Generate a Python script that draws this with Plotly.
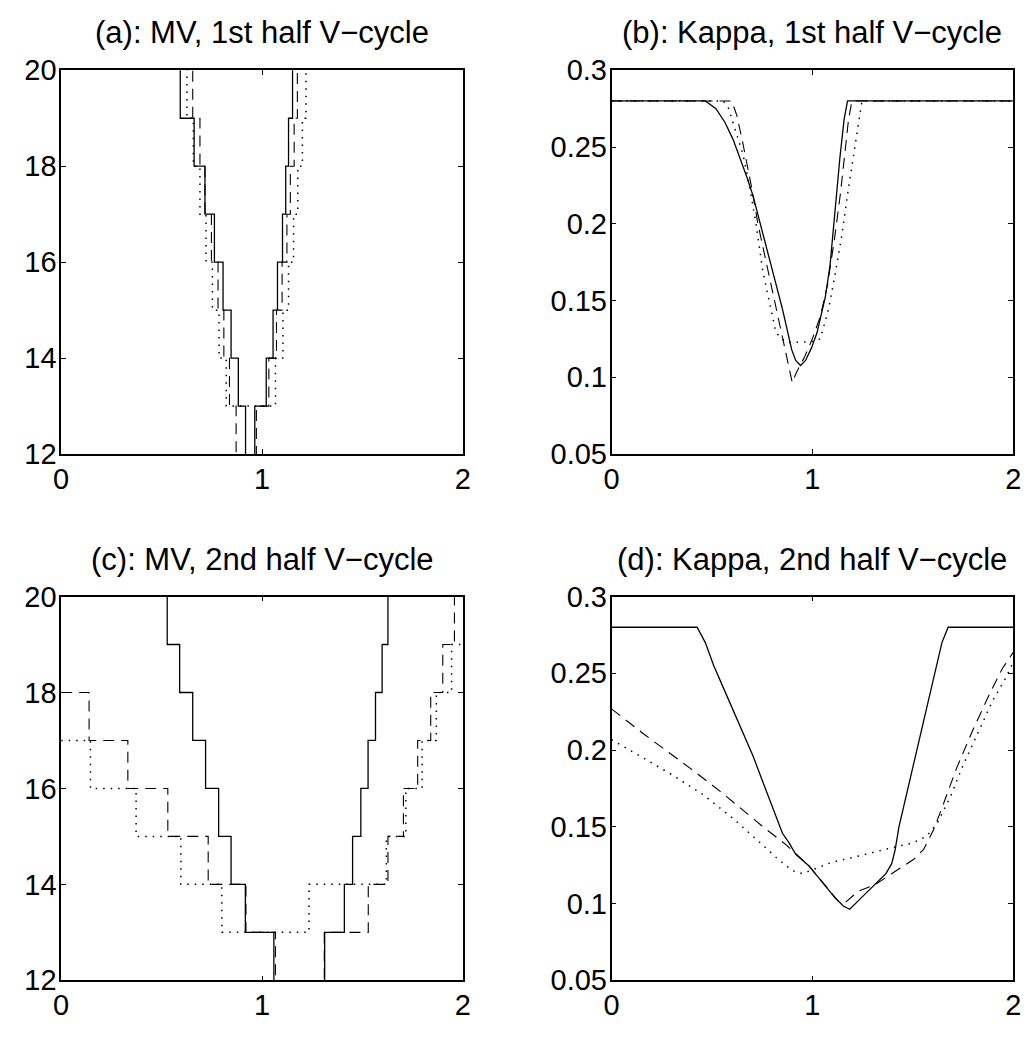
import plotly.graph_objects as go

# ---------------- (a) MV, 1st half V-cycle : staircase levels ----------------
# each x is where the level in the matching y list starts (drawn with hv steps)
mv_a_solid_x = [0, 0.593, 0.662, 0.716, 0.763, 0.806, 0.846, 0.882, 0.918, 0.964,
                1.021, 1.055, 1.077, 1.102, 1.118, 1.132, 1.152, 2.0]
mv_a_solid_y = [21, 19, 18, 17, 16, 15, 14, 13, 11, 13, 14, 15, 16, 17, 18, 19, 21, 21]

mv_a_dash_x = [0, 0.655, 0.691, 0.716, 0.748, 0.781, 0.81, 0.838, 0.871, 0.972,
               1.034, 1.072, 1.10, 1.124, 1.141, 1.16, 1.176, 2.0]
mv_a_dash_y = [21, 19, 18, 17, 16, 15, 14, 13, 11, 13, 14, 15, 16, 17, 18, 19, 21, 21]

mv_a_dot_x = [0, 0.626, 0.658, 0.691, 0.721, 0.753, 0.786, 0.822, 1.067, 1.104,
              1.132, 1.157, 1.178, 1.201, 1.219, 2.0]
mv_a_dot_y = [21, 19, 18, 17, 16, 15, 14, 13, 14, 15, 16, 17, 18, 19, 21, 21]

# ---------------- (c) MV, 2nd half V-cycle ----------------
mv_c_solid_x = [0, 0.528, 0.590, 0.655, 0.719, 0.784, 0.846, 0.917, 1.059, 1.312,
                1.41, 1.451, 1.492, 1.528, 1.565, 1.598, 1.627, 2.0]
mv_c_solid_y = [21, 19, 18, 17, 16, 15, 14, 13, 11, 13, 14, 15, 16, 17, 18, 19, 21, 21]

mv_c_dash_x = [0, 0.139, 0.332, 0.531, 0.732, 0.92, 1.067, 1.31, 1.529, 1.627,
               1.704, 1.775, 1.84, 1.90, 1.958, 2.0]
mv_c_dash_y = [18, 17, 16, 15, 14, 13, 11, 13, 14, 15, 16, 17, 18, 19, 21, 21]

mv_c_dot_x = [0, 0.146, 0.373, 0.596, 0.80, 1.234, 1.619, 1.716, 1.797, 1.868, 1.944, 2.0]
mv_c_dot_y = [17, 16, 15, 14, 13, 14, 15, 16, 17, 18, 19, 19]

# ---------------- (b) Kappa, 1st half V-cycle ----------------
kappa_b_solid_x = [0, 0.467, 0.52, 0.565, 0.605, 0.64, 0.675, 0.705, 0.73, 0.76, 0.79,
                   0.82, 0.85, 0.875, 0.897, 0.917, 0.941, 0.966, 0.995, 1.023, 1.064,
                   1.088, 1.105, 1.121, 1.137, 1.158, 1.175, 2.0]
kappa_b_solid_y = [0.28, 0.28, 0.275, 0.266, 0.255, 0.243, 0.23, 0.218, 0.205, 0.19, 0.175,
                   0.16, 0.145, 0.13, 0.118, 0.111, 0.1077, 0.111, 0.119, 0.129, 0.152,
                   0.173, 0.199, 0.222, 0.243, 0.268, 0.28, 0.28]

kappa_b_dash_x = [0, 0.598, 0.623, 0.65, 0.694, 0.729, 0.77, 0.80, 0.835, 0.87, 0.90,
                  0.92, 0.96, 1.00, 1.04, 1.075, 1.11, 1.14, 1.16, 1.18, 1.197, 2.0]
kappa_b_dash_y = [0.28, 0.28, 0.271, 0.255, 0.226, 0.2, 0.175, 0.157, 0.136, 0.115, 0.0965,
                  0.103, 0.113, 0.125, 0.14, 0.16, 0.19, 0.22, 0.245, 0.268, 0.28, 0.28]

kappa_b_dot_x = [0, 0.557, 0.582, 0.606, 0.631, 0.655, 0.688, 0.721, 0.753, 0.786, 0.819,
                 0.868, 0.933, 0.99, 1.039, 1.08, 1.113, 1.146, 1.178, 1.211, 1.235, 1.247, 2.0]
kappa_b_dot_y = [0.28, 0.28, 0.2754, 0.2649, 0.2543, 0.2449, 0.2238, 0.1986, 0.1691, 0.148,
                 0.129, 0.1228, 0.1228, 0.123, 0.125, 0.144, 0.167, 0.192, 0.2217, 0.2512,
                 0.2722, 0.28, 0.28]

# ---------------- (d) Kappa, 2nd half V-cycle ----------------
kappa_d_solid_x = [0, 0.426, 0.467, 0.508, 0.557, 0.606, 0.655, 0.704, 0.753, 0.802, 0.851,
                   0.884, 0.917, 0.982, 1.047, 1.113, 1.154, 1.186, 1.243, 1.309, 1.366,
                   1.395, 1.412, 1.431, 1.476, 1.521, 1.566, 1.611, 1.645, 1.676, 2.0]
kappa_d_solid_y = [0.28, 0.28, 0.27, 0.2552, 0.2405, 0.2257, 0.211, 0.1963, 0.1794, 0.1626,
                   0.1458, 0.1395, 0.1321, 0.1247, 0.1142, 0.1037, 0.0984, 0.0963, 0.1037,
                   0.1121, 0.1195, 0.126, 0.135, 0.15, 0.175, 0.2, 0.225, 0.25, 0.27, 0.28, 0.28]

kappa_d_dash_x = [0, 0.165, 0.394, 0.525, 0.541, 0.745, 0.868, 0.982, 1.064, 1.129, 1.162,
                  1.227, 1.309, 1.407, 1.505, 1.554, 1.603, 1.652, 1.717, 1.799, 1.881,
                  1.946, 2.0]
kappa_d_dash_y = [0.2268, 0.210, 0.1879, 0.1752, 0.1731, 0.151, 0.1384, 0.1247, 0.1121,
                  0.1016, 0.1005, 0.1079, 0.1121, 0.1205, 0.1289, 0.1353, 0.1479, 0.1647,
                  0.1879, 0.2131, 0.2362, 0.2531, 0.2636]

kappa_d_dot_x = [0, 0.15, 0.3, 0.45, 0.6, 0.72, 0.82, 0.9, 0.95, 1.0, 1.1, 1.2, 1.3, 1.4,
                 1.5, 1.57, 1.62, 1.685, 1.75, 1.815, 1.897, 1.962, 2.0]
kappa_d_dot_y = [0.2068, 0.1955, 0.184, 0.1715, 0.156, 0.142, 0.13, 0.1215, 0.1195, 0.122,
                 0.127, 0.13, 0.1335, 0.1365, 0.1395, 0.144, 0.1521, 0.1689, 0.19, 0.2089,
                 0.232, 0.2468, 0.2573]

# ---------------- axis ticks and titles ----------------
x_ticks = [0, 1, 2]
mv_ticks = [12, 14, 16, 18, 20]
kappa_ticks = [0.05, 0.1, 0.15, 0.2, 0.25, 0.3]
kappa_tick_text = ["0.05", "0.1", "0.15", "0.2", "0.25", "0.3"]
titles = [
    "(a): MV, 1st half V\u2212cycle",
    "(b): Kappa, 1st half V\u2212cycle",
    "(c): MV, 2nd half V\u2212cycle",
    "(d): Kappa, 2nd half V\u2212cycle",
]

FONT = "Liberation Sans, Arial, Helvetica, sans-serif"
W, H = 1036, 1038

# panel boxes in pixels (left, right, top, bottom)
boxes = [(54, 462, 56, 452), (613, 1021, 56, 452), (54, 462, 599, 995), (613, 1021, 599, 995)]

styles = {
    "solid": dict(color="black", width=1.3, dash="solid"),
    "dash": dict(color="black", width=1.1, dash="11px,7px"),
    "dot": dict(color="black", width=1.5, dash="1.5px,6px"),
}

fig = go.Figure()


def add(panel, xs, ys, style, stairs):
    suffix = "" if panel == 1 else str(panel)
    fig.add_trace(go.Scatter(
        x=xs, y=ys, mode="lines",
        line=dict(shape="hv" if stairs else "linear", **styles[style]),
        xaxis="x" + suffix, yaxis="y" + suffix,
        showlegend=False, hoverinfo="skip",
    ))


add(1, mv_a_dot_x, mv_a_dot_y, "dot", True)
add(1, mv_a_dash_x, mv_a_dash_y, "dash", True)
add(1, mv_a_solid_x, mv_a_solid_y, "solid", True)

add(2, kappa_b_dot_x, kappa_b_dot_y, "dot", False)
add(2, kappa_b_dash_x, kappa_b_dash_y, "dash", False)
add(2, kappa_b_solid_x, kappa_b_solid_y, "solid", False)

add(3, mv_c_dot_x, mv_c_dot_y, "dot", True)
add(3, mv_c_dash_x, mv_c_dash_y, "dash", True)
add(3, mv_c_solid_x, mv_c_solid_y, "solid", True)

add(4, kappa_d_dot_x, kappa_d_dot_y, "dot", False)
add(4, kappa_d_dash_x, kappa_d_dash_y, "dash", False)
add(4, kappa_d_solid_x, kappa_d_solid_y, "solid", False)

axis_common = dict(
    showline=True, linecolor="black", linewidth=1.5, mirror="ticks",
    ticks="inside", ticklen=5, tickwidth=1, tickcolor="black",
    showgrid=False, zeroline=False, fixedrange=True,
    tickfont=dict(family=FONT, size=29, color="black"),
)

layout = dict(
    width=W, height=H, margin=dict(l=0, r=0, t=0, b=0, pad=0),
    paper_bgcolor="white", plot_bgcolor="white",
    font=dict(family=FONT, color="black"),
    annotations=[],
)

for i, (l, r, t, b) in enumerate(boxes, start=1):
    suffix = "" if i == 1 else str(i)
    xdom = [l / W, r / W]
    ydom = [1 - b / H, 1 - t / H]
    layout["xaxis" + suffix] = dict(
        axis_common, domain=xdom, anchor="y" + suffix, range=[0, 2],
        tickvals=x_ticks, ticktext=[str(v) for v in x_ticks], ticklabelstandoff=-2,
    )
    if i in (1, 3):
        yt = dict(range=[12, 20], tickvals=mv_ticks, ticktext=[str(v) for v in mv_ticks])
    else:
        yt = dict(range=[0.05, 0.3], tickvals=kappa_ticks, ticktext=kappa_tick_text)
    layout["yaxis" + suffix] = dict(
        axis_common, domain=ydom, anchor="x" + suffix, ticklabelstandoff=-3, **yt,
    )
    layout["annotations"].append(dict(
        text=titles[i - 1], xref="paper", yref="paper",
        x=(xdom[0] + xdom[1]) / 2, y=ydom[1], xanchor="center", yanchor="bottom",
        yshift=18, showarrow=False, font=dict(family=FONT, size=31, color="black"),
    ))

fig.update_layout(**layout)
fig.write_html("out.html")
